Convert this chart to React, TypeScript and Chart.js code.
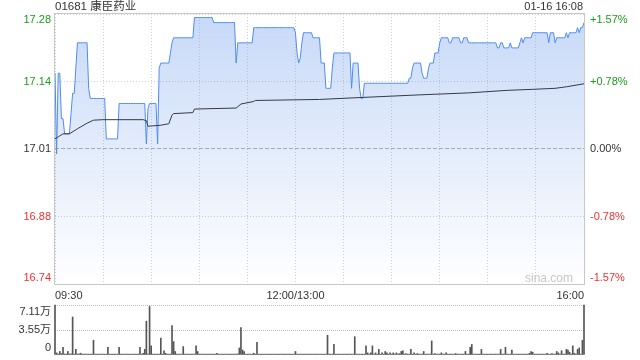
import React, { useEffect, useRef } from 'react';
import { Chart, registerables } from 'chart.js';

Chart.register(...registerables);

const FONT = "'Liberation Sans', Arial, 'Noto Sans CJK SC', sans-serif";

const stockTitle = '01681 康臣药业';
const stampText = '01-16 16:08';
const watermark = 'sina.com';

const prevClose = 17.01;
const priceMin = 16.743;
const priceMax = 17.277;
const priceTickValues = [16.743, 16.8765, 17.01, 17.1435, 17.277];
const priceTickLabels = ['16.74', '16.88', '17.01', '17.14', '17.28'];
const pctTickLabels = ['-1.57%', '-0.78%', '0.00%', '+0.78%', '+1.57%'];

const gridMinutes = [0, 30, 60, 90, 120, 150, 180, 210, 240, 270, 300, 330];
const timeLabelMinutes = [0, 150, 330];
const timeLabels = ['09:30', '12:00/13:00', '16:00'];

const volTickValues = [0, 35550, 71100];
const volTickLabels = ['0', '3.55万', '7.11万'];

// price per minute (index 0 = 09:30, 150 = 12:00/13:00, 330 = 16:00)
const priceValues = [
  17.16, 17.00, 17.16, 17.16, 17.07, 17.07, 17.04, 17.04, 17.04, 17.04,
  17.08, 17.12, 17.12, 17.17, 17.22, 17.22, 17.22, 17.22, 17.22, 17.22,
  17.22, 17.13, 17.11, 17.11, 17.11, 17.11, 17.11, 17.11, 17.11, 17.11,
  17.11, 17.11, 17.03, 17.03, 17.03, 17.03, 17.03, 17.03, 17.03, 17.03,
  17.10, 17.10, 17.10, 17.10, 17.10, 17.10, 17.10, 17.10, 17.10, 17.10,
  17.10, 17.10, 17.10, 17.10, 17.10, 17.10, 17.10, 17.02, 17.09, 17.10,
  17.10, 17.10, 17.10, 17.10, 17.02, 17.17, 17.18, 17.18, 17.18, 17.18,
  17.18, 17.18, 17.20, 17.22, 17.23, 17.23, 17.23, 17.23, 17.23, 17.23,
  17.23, 17.23, 17.23, 17.23, 17.23, 17.23, 17.23, 17.27, 17.27, 17.27,
  17.27, 17.27, 17.27, 17.27, 17.27, 17.27, 17.27, 17.27, 17.27, 17.26,
  17.26, 17.26, 17.26, 17.26, 17.26, 17.26, 17.26, 17.26, 17.26, 17.26,
  17.26, 17.26, 17.26, 17.18, 17.22, 17.22, 17.22, 17.22, 17.22, 17.22,
  17.22, 17.22, 17.22, 17.22, 17.25, 17.25, 17.25, 17.25, 17.25, 17.25,
  17.25, 17.25, 17.25, 17.25, 17.25, 17.25, 17.25, 17.25, 17.25, 17.25,
  17.25, 17.25, 17.25, 17.25, 17.25, 17.25, 17.25, 17.25, 17.25, 17.25,
  17.24, 17.20, 17.18, 17.19, 17.22, 17.24, 17.24, 17.24, 17.24, 17.24,
  17.24, 17.23, 17.23, 17.23, 17.23, 17.23, 17.18, 17.18, 17.18, 17.13,
  17.13, 17.13, 17.13, 17.17, 17.20, 17.20, 17.20, 17.20, 17.20, 17.20,
  17.20, 17.20, 17.20, 17.20, 17.20, 17.13, 17.18, 17.18, 17.18, 17.18,
  17.13, 17.11, 17.11, 17.14, 17.14, 17.14, 17.14, 17.14, 17.14, 17.14,
  17.14, 17.14, 17.14, 17.14, 17.14, 17.14, 17.14, 17.14, 17.14, 17.14,
  17.14, 17.14, 17.14, 17.14, 17.14, 17.14, 17.14, 17.14, 17.14, 17.14,
  17.14, 17.15, 17.15, 17.17, 17.18, 17.18, 17.18, 17.18, 17.18, 17.16,
  17.15, 17.15, 17.15, 17.17, 17.18, 17.18, 17.18, 17.20, 17.20, 17.20,
  17.22, 17.23, 17.23, 17.23, 17.23, 17.23, 17.22, 17.22, 17.23, 17.23,
  17.23, 17.23, 17.23, 17.22, 17.22, 17.23, 17.23, 17.23, 17.22, 17.22,
  17.22, 17.22, 17.22, 17.22, 17.22, 17.22, 17.22, 17.22, 17.22, 17.22,
  17.22, 17.22, 17.22, 17.22, 17.22, 17.22, 17.21, 17.21, 17.22, 17.22,
  17.21, 17.21, 17.21, 17.21, 17.22, 17.21, 17.21, 17.21, 17.21, 17.21,
  17.22, 17.23, 17.22, 17.23, 17.23, 17.23, 17.23, 17.23, 17.24, 17.24,
  17.24, 17.24, 17.24, 17.24, 17.24, 17.24, 17.24, 17.24, 17.22, 17.24,
  17.24, 17.24, 17.22, 17.23, 17.23, 17.23, 17.23, 17.23, 17.23, 17.24,
  17.23, 17.24, 17.24, 17.24, 17.24, 17.24, 17.25, 17.24, 17.25, 17.25,
  17.26,
];

// average price readings (minute index, value)
const avgMinutes = [0, 2, 5, 9, 14, 20, 24, 30, 55, 57, 58, 66, 71, 73, 74, 86, 87, 113, 116, 124, 125, 165, 192, 227, 258, 282, 298, 312, 319, 330];
const avgValues = [17.030, 17.034, 17.040, 17.040, 17.050, 17.061, 17.067, 17.068, 17.068, 17.066, 17.055, 17.057, 17.060, 17.077, 17.080, 17.082, 17.089, 17.091, 17.099, 17.104, 17.106, 17.108, 17.112, 17.117, 17.121, 17.126, 17.128, 17.130, 17.133, 17.139];

// volume per minute
const volumeValues = [
  71100, 3000, 1200, 5000, 2000, 11000, 1500, 1200, 5000, 1500,
  1500, 54000, 1200, 8000, 1200, 1500, 2500, 1200, 1200, 1200,
  1200, 1200, 1200, 1200, 21000, 1200, 1200, 1200, 1200, 1200,
  1200, 1200, 1200, 11000, 1200, 1200, 1200, 1200, 1200, 1200,
  11000, 1200, 1200, 1200, 1200, 1200, 1200, 1200, 1200, 1200,
  1200, 1200, 1200, 11000, 1200, 2500, 8000, 48000, 1200, 69000,
  13000, 1200, 1200, 1200, 1200, 1200, 24000, 1200, 6000, 2500,
  1200, 1200, 1200, 42000, 19000, 5000, 1200, 1200, 1200, 1200,
  12000, 1200, 1200, 1200, 1200, 1200, 1200, 1200, 13000, 5000,
  1200, 1200, 1200, 1200, 1200, 1200, 1200, 1200, 1200, 1200,
  1200, 2500, 1200, 1200, 1200, 1200, 1200, 1200, 1200, 1200,
  1200, 1200, 1200, 1200, 1500, 10000, 39000, 7000, 5000, 1200,
  1200, 1200, 1200, 1200, 2500, 1200, 18000, 1200, 1200, 1200,
  1200, 1200, 1200, 1200, 1200, 1200, 1200, 1200, 1200, 1200,
  1200, 1200, 1200, 1200, 1200, 1200, 1200, 1200, 1200, 1200,
  5000, 1200, 1200, 1200, 1200, 1200, 1200, 1200, 1200, 1200,
  1200, 1200, 1200, 1200, 1200, 1200, 1200, 1200, 1200, 1200,
  28000, 1200, 1200, 1200, 15000, 1200, 1200, 1200, 1200, 1200,
  1200, 1200, 1200, 1200, 1200, 1200, 1200, 26000, 1200, 1200,
  1200, 1200, 1200, 1200, 13000, 3000, 1200, 3000, 13000, 1200,
  3000, 1200, 8000, 1200, 3000, 1200, 5000, 3000, 1200, 3000,
  1200, 3000, 1200, 3000, 1200, 2000, 5000, 6000, 1200, 2000,
  1200, 1200, 8000, 1200, 3000, 1200, 2000, 1200, 1200, 1200,
  5000, 1200, 1200, 1200, 1200, 20000, 1200, 2000, 1200, 1200,
  1200, 3000, 1200, 1200, 3000, 1200, 1200, 1200, 1200, 1200,
  2000, 1200, 1200, 1200, 1200, 1200, 5000, 1200, 1200, 11000,
  15000, 1200, 1200, 1200, 1200, 1200, 8000, 1200, 1200, 1200,
  1200, 1200, 1200, 1200, 1200, 1200, 1200, 1200, 8000, 1200,
  1200, 11000, 1200, 1200, 1200, 7000, 1200, 1200, 1200, 1200,
  1200, 1200, 1200, 1200, 1200, 1200, 2500, 5000, 4000, 1200,
  1200, 1200, 1200, 1200, 1200, 1200, 1200, 2500, 1200, 1200,
  2000, 1200, 1200, 5000, 3000, 1200, 6000, 1200, 1200, 8000,
  7000, 4000, 1200, 13000, 2500, 1200, 8000, 10000, 1200, 21000,
  71100,
];

const GREEN = '#1a9d1a';
const RED = '#f03030';
const DARK = '#333333';

function tickColor(index: number): string {
  if (index < 2) return RED;
  if (index === 2) return DARK;
  return GREEN;
}

function edgeShift(label: string, index: number, count: number): string | string[] {
  if (index === count - 1) return ['', label];
  if (index === 0) return [label, ''];
  return label;
}

function noVerticalPadding(s: any, width: number) {
  s.width = width;
  s.paddingTop = 0;
  s.paddingBottom = 0;
}

const framePlugin = {
  id: 'frameAndTexts',
  afterDraw(chart: any) {
    const { ctx, chartArea: a } = chart;
    ctx.save();
    ctx.strokeStyle = '#c8c8c8';
    ctx.lineWidth = 1;
    ctx.strokeRect(Math.round(a.left) - 0.5, Math.round(a.top) - 0.5, Math.round(a.right - a.left) + 1, Math.round(a.bottom - a.top) + 1);
    ctx.fillStyle = '#333';
    ctx.textBaseline = 'middle';
    ctx.font = `11.5px ${FONT}`;
    ctx.textAlign = 'left';
    ctx.fillText(stockTitle, a.left, 7);
    ctx.font = `11px ${FONT}`;
    ctx.textAlign = 'right';
    ctx.fillText(stampText, a.right - 1, 7);
    ctx.fillStyle = '#c8c8c8';
    ctx.font = `12px ${FONT}`;
    ctx.fillText(watermark, a.right - 11, a.bottom - 5);
    ctx.restore();
  },
};

export default function App() {
  const mainRef = useRef<HTMLCanvasElement>(null);
  const volRef = useRef<HTMLCanvasElement>(null);

  useEffect(() => {
    if (!mainRef.current || !volRef.current) return;

    const priceFill = (c: any) => {
      const chart = c.chart;
      const area = chart.chartArea;
      if (!area) return 'rgba(100,150,235,0.2)';
      const g = chart.ctx.createLinearGradient(0, area.top, 0, area.bottom);
      g.addColorStop(0, 'rgba(100,150,235,0.36)');
      g.addColorStop(1, 'rgba(100,150,235,0.0)');
      return g;
    };

    const main = new Chart(mainRef.current, {
      type: 'line',
      data: {
        datasets: [
          {
            label: '均价',
            data: avgMinutes.map((m, k) => ({ x: m, y: avgValues[k] })),
            borderColor: '#353a44',
            borderWidth: 1,
            pointRadius: 0,
            tension: 0,
            fill: false,
            order: 0,
          },
          {
            label: '价格',
            data: priceValues.map((v, i) => ({ x: i, y: v })),
            borderColor: '#4f8cf0',
            borderWidth: 1,
            pointRadius: 0,
            tension: 0,
            fill: 'start',
            backgroundColor: priceFill,
            order: 1,
          },
        ],
      },
      options: {
        responsive: false,
        animation: false,
        layout: { padding: { top: 14, left: 0, right: 0, bottom: 0 } },
        plugins: { legend: { display: false }, tooltip: { enabled: false } },
        scales: {
          x: {
            type: 'linear',
            min: 0,
            max: 330,
            afterBuildTicks: (s: any) => {
              s.ticks = gridMinutes.map((v) => ({ value: v }));
            },
            afterFit: (s: any) => {
              s.height = 16;
            },
            grid: { color: '#cfcfcf', lineWidth: 1, drawTicks: false },
            border: { display: false, dash: [1, 2] },
            ticks: {
              autoSkip: false,
              maxRotation: 0,
              minRotation: 0,
              align: 'inner',
              padding: 5,
              color: DARK,
              font: { family: FONT, size: 11 },
              callback: (v: any) => {
                const k = timeLabelMinutes.indexOf(Number(v));
                return k >= 0 ? timeLabels[k] : '';
              },
            },
          },
          y: {
            type: 'linear',
            position: 'left',
            min: priceMin,
            max: priceMax,
            afterBuildTicks: (s: any) => {
              s.ticks = priceTickValues.map((v) => ({ value: v }));
            },
            afterFit: (s: any) => noVerticalPadding(s, 55),
            grid: {
              drawTicks: false,
              lineWidth: 1,
              color: (c: any) => (c.index === 2 ? '#b0b0b0' : '#cfcfcf'),
            },
            border: {
              display: false,
              dash: (c: any) => (c.index === 2 ? [4, 2] : [1, 2]),
            },
            ticks: {
              autoSkip: false,
              padding: 4,
              color: (c: any) => tickColor(c.index),
              font: { family: FONT, size: 11, lineHeight: 1.15 },
              callback: (_v: any, i: number) => edgeShift(priceTickLabels[i], i, priceTickLabels.length),
            },
          },
          y2: {
            type: 'linear',
            position: 'right',
            min: priceMin,
            max: priceMax,
            afterBuildTicks: (s: any) => {
              s.ticks = priceTickValues.map((v) => ({ value: v }));
            },
            afterFit: (s: any) => noVerticalPadding(s, 56),
            grid: { display: false, drawTicks: false },
            border: { display: false },
            ticks: {
              autoSkip: false,
              padding: 6,
              color: (c: any) => tickColor(c.index),
              font: { family: FONT, size: 11, lineHeight: 1.15 },
              callback: (_v: any, i: number) => edgeShift(pctTickLabels[i], i, pctTickLabels.length),
            },
          },
        },
      },
      plugins: [framePlugin],
    } as any);

    const vol = new Chart(volRef.current, {
      type: 'bar',
      data: {
        labels: volumeValues.map((_v, i) => String(i)),
        datasets: [
          {
            label: '成交量',
            data: volumeValues,
            backgroundColor: '#555555',
            barThickness: 1,
            clip: false,
          },
        ],
      },
      options: {
        responsive: false,
        animation: false,
        layout: { padding: { top: 5, bottom: 5, left: 0, right: 56 } },
        plugins: { legend: { display: false }, tooltip: { enabled: false } },
        scales: {
          x: { display: false, offset: false, grid: { display: false } },
          y: {
            min: 0,
            max: 71100,
            position: 'left',
            afterBuildTicks: (s: any) => {
              s.ticks = volTickValues.map((v) => ({ value: v }));
            },
            afterFit: (s: any) => noVerticalPadding(s, 55),
            grid: {
              drawTicks: false,
              color: (c: any) => (c.index === 0 ? 'rgba(0,0,0,0)' : '#bdbdbd'),
            },
            border: { display: false, dash: [1, 1] },
            ticks: {
              autoSkip: false,
              padding: 4,
              color: DARK,
              font: { family: FONT, size: 11, lineHeight: 1.2 },
              callback: (_v: any, i: number) => edgeShift(volTickLabels[i], i, volTickLabels.length),
            },
          },
        },
      },
    } as any);

    return () => {
      main.destroy();
      vol.destroy();
    };
  }, []);

  return (
    <div style={{ position: 'absolute', left: 0, top: 0, width: 640, height: 360, background: '#fff' }}>
      <canvas ref={mainRef} width={640} height={300} style={{ display: 'block', width: 640, height: 300 }} />
      <canvas ref={volRef} width={640} height={60} style={{ display: 'block', width: 640, height: 60 }} />
    </div>
  );
}
